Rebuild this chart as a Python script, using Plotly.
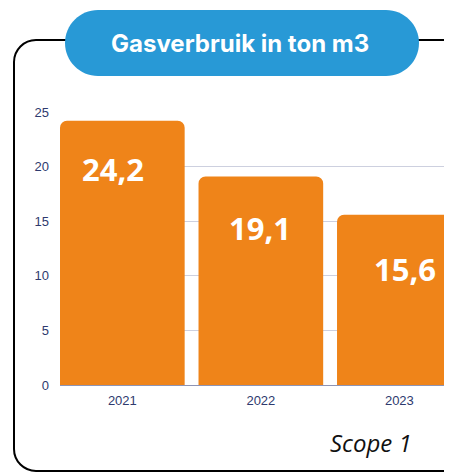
import plotly.graph_objects as go

years = ["2021", "2022", "2023"]
values = [24.2, 19.1, 15.6]
value_labels = ["24,2", "19,1", "15,6"]
y_ticks = [0, 5, 10, 15, 20, 25]
title_text = "Gasverbruik in ton m3"
footer_text = "Scope 1"

OFF = 8  # page body margin
W, H = 452 - OFF, 473 - OFF
ML, MR, MT, MB = 60 - OFF, 0, 112 - OFF, 473 - 385
PW, PH = W - ML - MR, H - MT - MB


def px(x):
    return (x - OFF - ML) / PW


def py(y):
    return (H - MB - (y - OFF)) / PH


def rounded_path(x0, y0, x1, y1, r):
    k = 0.5523
    pts = []
    pts.append(f"M {px(x0 + r)},{py(y0)}")
    pts.append(f"L {px(x1 - r)},{py(y0)}")
    pts.append(f"C {px(x1 - r + k * r)},{py(y0)} {px(x1)},{py(y0 + r - k * r)} {px(x1)},{py(y0 + r)}")
    pts.append(f"L {px(x1)},{py(y1 - r)}")
    pts.append(f"C {px(x1)},{py(y1 - r + k * r)} {px(x1 - r + k * r)},{py(y1)} {px(x1 - r)},{py(y1)}")
    pts.append(f"L {px(x0 + r)},{py(y1)}")
    pts.append(f"C {px(x0 + r - k * r)},{py(y1)} {px(x0)},{py(y1 - r + k * r)} {px(x0)},{py(y1 - r)}")
    pts.append(f"L {px(x0)},{py(y0 + r)}")
    pts.append(f"C {px(x0)},{py(y0 + r - k * r)} {px(x0 + r - k * r)},{py(y0)} {px(x0 + r)},{py(y0)}")
    pts.append("Z")
    return " ".join(pts)


fig = go.Figure()
fig.add_trace(go.Bar(
    x=list(range(len(years))),
    y=values,
    marker=dict(color="#EF8419", line=dict(width=0)),
    hoverinfo="skip",
))

annotations = []
xshifts = [-9, -1, 6]
yshifts = [-48, -52, -54]
for i, (v, lab) in enumerate(zip(values, value_labels)):
    annotations.append(dict(
        x=i, y=v, xref="x", yref="y", text=lab, showarrow=False,
        yshift=yshifts[i], xshift=xshifts[i],
        font=dict(family="Open Sans", size=31, color="white", weight="bold"),
    ))
annotations.append(dict(
    x=px(240), y=py(43), xref="paper", yref="paper", text=title_text,
    showarrow=False, xanchor="center", yanchor="middle",
    font=dict(family="Inter", size=24, color="white", weight="bold"),
))
annotations.append(dict(
    x=px(371), y=py(442), xref="paper", yref="paper", text=footer_text,
    showarrow=False, xanchor="center", yanchor="middle",
    font=dict(family="Open Sans", size=24, color="#111111", style="italic"),
))

shapes = [
    dict(type="path", xref="paper", yref="paper",
         path=rounded_path(14, 40, 480, 471, 22),
         line=dict(color="black", width=2), fillcolor="rgba(0,0,0,0)", layer="below"),
    dict(type="path", xref="paper", yref="paper",
         path=rounded_path(65, 10, 419, 76, 33),
         line=dict(width=0), fillcolor="#2899D6", layer="above"),
]

fig.update_layout(
    width=W, height=H,
    margin=dict(l=ML, r=MR, t=MT, b=MB, pad=0),
    paper_bgcolor="white", plot_bgcolor="white",
    showlegend=False,
    bargap=0.1,
    barcornerradius=7,
    annotations=annotations,
    shapes=shapes,
    xaxis=dict(
        range=[-0.45, 2.38], tickmode="array",
        tickvals=list(range(len(years))), ticktext=years,
        showgrid=False, zeroline=False, showline=False,
        tickfont=dict(family="Liberation Sans", size=13, color="#2E3A6E"),
        ticks="", ticklabelstandoff=6,
    ),
    yaxis=dict(
        range=[0, 25], tickmode="array", tickvals=y_ticks,
        showgrid=True, gridcolor="#CDD0DF", gridwidth=1,
        zeroline=True, zerolinecolor="#8E94B4", zerolinewidth=1,
        showline=False,
        tickfont=dict(family="Liberation Sans", size=13, color="#2E3A6E"),
        ticks="", ticklabelstandoff=10,
    ),
)

fig.write_html("out.html")
